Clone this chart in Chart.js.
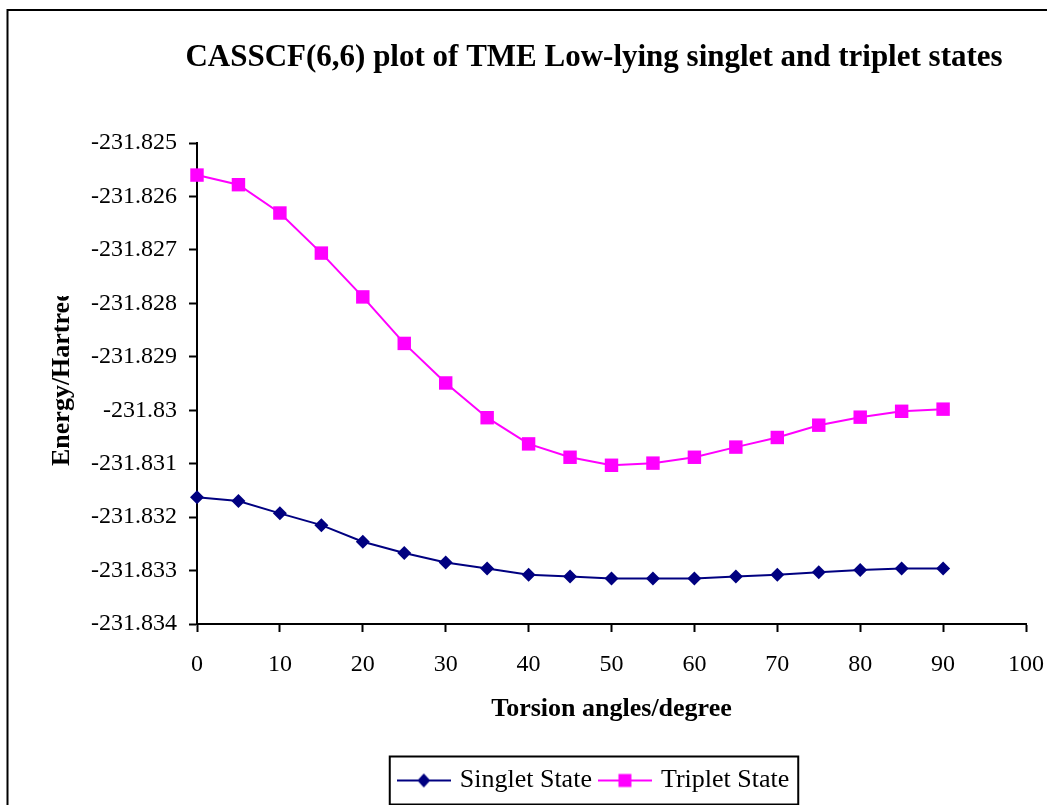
<!DOCTYPE html>
<html>
<head>
<meta charset="utf-8">
<script src="https://cdn.jsdelivr.net/npm/chart.js@4/dist/chart.umd.min.js"></script>
<style>
  html, body { margin: 0; padding: 0; background: #ffffff; }
  #wrap { width: 1047px; height: 805px; position: relative; }
</style>
</head>
<body>
<div id="wrap"><canvas id="c" width="1047" height="805"></canvas></div>
<script>
// ---- data ----
const chartTitle = 'CASSCF(6,6) plot of TME Low-lying singlet and triplet states';
const xTitle = 'Torsion angles/degree';
const yTitle = 'Energy/Hartree';
const angles = [0, 5, 10, 15, 20, 25, 30, 35, 40, 45, 50, 55, 60, 65, 70, 75, 80, 85, 90];
const singletLabel = 'Singlet State';
const tripletLabel = 'Triplet State';
const singlet = [-231.83163, -231.83170, -231.83193, -231.83215, -231.83246, -231.83267, -231.83285,
                 -231.83296, -231.83308, -231.83311, -231.83315, -231.83315, -231.83315, -231.83311,
                 -231.83308, -231.83303, -231.83299, -231.83296, -231.83296];
const triplet = [-231.82560, -231.82578, -231.82631, -231.82706, -231.82788, -231.82875, -231.82949,
                 -231.83014, -231.83063, -231.83088, -231.83103, -231.83099, -231.83088, -231.83069,
                 -231.83051, -231.83028, -231.83013, -231.83002, -231.82998];
const xTickValues = [0, 10, 20, 30, 40, 50, 60, 70, 80, 90, 100];
const xTickLabels = ['0', '10', '20', '30', '40', '50', '60', '70', '80', '90', '100'];
const yTickValues = [-231.825, -231.826, -231.827, -231.828, -231.829, -231.830, -231.831, -231.832, -231.833, -231.834];
const yTickLabels = ['-231.825', '-231.826', '-231.827', '-231.828', '-231.829', '-231.83', '-231.831', '-231.832', '-231.833', '-231.834'];

// ---- styles ----
const SERIF = "'Liberation Serif', 'Times New Roman', serif";
const singletColor = '#000080';
const tripletColor = '#FF00FF';

function legendIcon(color, style) {
  const cv = document.createElement('canvas');
  cv.width = 54; cv.height = 16;
  const g = cv.getContext('2d');
  g.strokeStyle = color; g.lineWidth = 2;
  g.beginPath(); g.moveTo(0, 8); g.lineTo(54, 8); g.stroke();
  g.fillStyle = color;
  g.beginPath();
  if (style === 'diamond') {
    g.moveTo(27, 1); g.lineTo(33.5, 8); g.lineTo(27, 15); g.lineTo(20.5, 8); g.closePath();
  } else {
    g.rect(20.5, 1.5, 13, 13);
  }
  g.fill();
  return cv;
}
const singletIcon = legendIcon(singletColor, 'diamond');
const tripletIcon = legendIcon(tripletColor, 'square');

const decorPlugin = {
  id: 'decor',
  beforeDraw(chart) {
    const ctx = chart.ctx;
    ctx.save();
    ctx.fillStyle = '#ffffff';
    ctx.fillRect(0, 0, chart.width, chart.height);
    ctx.strokeStyle = '#000000';
    ctx.lineWidth = 2;
    ctx.strokeRect(7.5, 10, 3000, 3000);
    ctx.restore();
  },
  afterLayout(chart) {
    const lg = chart.legend;
    if (lg) {
      const shiftX = 595 - (lg.left + lg.right) / 2;
      lg.left += shiftX; lg.right += shiftX;
      const shiftY = 757.5 - lg.top;
      lg.top += shiftY; lg.bottom += shiftY;
    }
  },
  afterDraw(chart) {
    const ctx = chart.ctx;
    ctx.save();
    // title
    ctx.fillStyle = '#000000';
    ctx.font = 'bold 31px ' + SERIF;
    ctx.textAlign = 'center';
    ctx.textBaseline = 'middle';
    ctx.fillText(chartTitle, 594, 58);
    // y axis title (clipped like the original text box)
    ctx.save();
    ctx.beginPath();
    ctx.rect(30, 296, 60, 200);
    ctx.clip();
    ctx.translate(62, 466);
    ctx.rotate(-Math.PI / 2);
    ctx.font = 'bold 26px ' + SERIF;
    ctx.textAlign = 'left';
    ctx.textBaseline = 'middle';
    ctx.fillText(yTitle, 0, 0);
    ctx.restore();
    // legend frame
    const lg = chart.legend;
    if (lg && lg.legendHitBoxes && lg.legendHitBoxes.length) {
      const hb = lg.legendHitBoxes;
      const first = hb[0], last = hb[hb.length - 1];
      const cy = first.top + first.height / 2;
      ctx.strokeStyle = '#000000';
      ctx.lineWidth = 2;
      ctx.strokeRect(first.left - 11, cy - 24, (last.left + last.width) - first.left + 20, 48);
    }
    ctx.restore();
  }
};

new Chart(document.getElementById('c'), {
  type: 'line',
  data: {
    datasets: [
      {
        label: singletLabel,
        data: angles.map((a, i) => ({ x: a, y: singlet[i] })),
        borderColor: singletColor,
        backgroundColor: singletColor,
        borderWidth: 2,
        pointStyle: 'rectRot',
        pointRadius: 7,
        pointHoverRadius: 7,
        pointBorderWidth: 0,
        tension: 0,
        clip: false
      },
      {
        label: tripletLabel,
        data: angles.map((a, i) => ({ x: a, y: triplet[i] })),
        borderColor: tripletColor,
        backgroundColor: tripletColor,
        borderWidth: 2,
        pointStyle: 'rect',
        pointRadius: 9.5,
        pointHoverRadius: 9.5,
        pointBorderWidth: 0,
        tension: 0,
        clip: false
      }
    ]
  },
  options: {
    responsive: false,
    animation: false,
    events: [],
    layout: { padding: { left: 0, right: 21, top: 143, bottom: 9 } },
    plugins: {
      title: { display: false },
      tooltip: { enabled: false },
      legend: {
        display: true,
        position: 'bottom',
        labels: {
          color: '#000000',
          font: { family: SERIF, size: 26 },
          usePointStyle: true,
          pointStyleWidth: 46,
          padding: 10,
          generateLabels(chart) {
            return [
              { text: singletLabel, pointStyle: singletIcon, fillStyle: singletColor, strokeStyle: singletColor, lineWidth: 0, datasetIndex: 0, hidden: false, fontColor: '#000000' },
              { text: tripletLabel, pointStyle: tripletIcon, fillStyle: tripletColor, strokeStyle: tripletColor, lineWidth: 0, datasetIndex: 1, hidden: false, fontColor: '#000000' }
            ];
          }
        }
      }
    },
    scales: {
      x: {
        type: 'linear',
        min: 0,
        max: 100,
        afterBuildTicks(scale) { scale.ticks = xTickValues.map(v => ({ value: v })); },
        afterFit(scale) { scale.height = 126; scale.paddingRight = 0; scale.paddingLeft = 0; },
        ticks: {
          color: '#000000',
          font: { family: SERIF, size: 24 },
          padding: 18,
          maxRotation: 0,
          autoSkip: false,
          callback: (v, i) => xTickLabels[i]
        },
        grid: {
          drawOnChartArea: false,
          drawTicks: true,
          tickLength: 8,
          tickColor: '#000000',
          tickWidth: 2
        },
        border: { display: true, color: '#000000', width: 2 },
        title: {
          display: true,
          text: xTitle,
          color: '#000000',
          font: { family: SERIF, size: 26, weight: 'bold' },
          padding: { top: 0, bottom: 25 }
        }
      },
      y: {
        type: 'linear',
        min: -231.834,
        max: -231.825,
        afterBuildTicks(scale) { scale.ticks = yTickValues.map(v => ({ value: v })); },
        afterFit(scale) { scale.width = 197; },
        ticks: {
          color: '#000000',
          font: { family: SERIF, size: 24 },
          padding: 12,
          autoSkip: false,
          callback: (v, i) => yTickLabels[i]
        },
        grid: {
          drawOnChartArea: false,
          drawTicks: true,
          tickLength: 8,
          tickColor: '#000000',
          tickWidth: 2
        },
        border: { display: true, color: '#000000', width: 2 },
        title: { display: false }
      }
    }
  },
  plugins: [decorPlugin]
});
</script>
</body>
</html>
